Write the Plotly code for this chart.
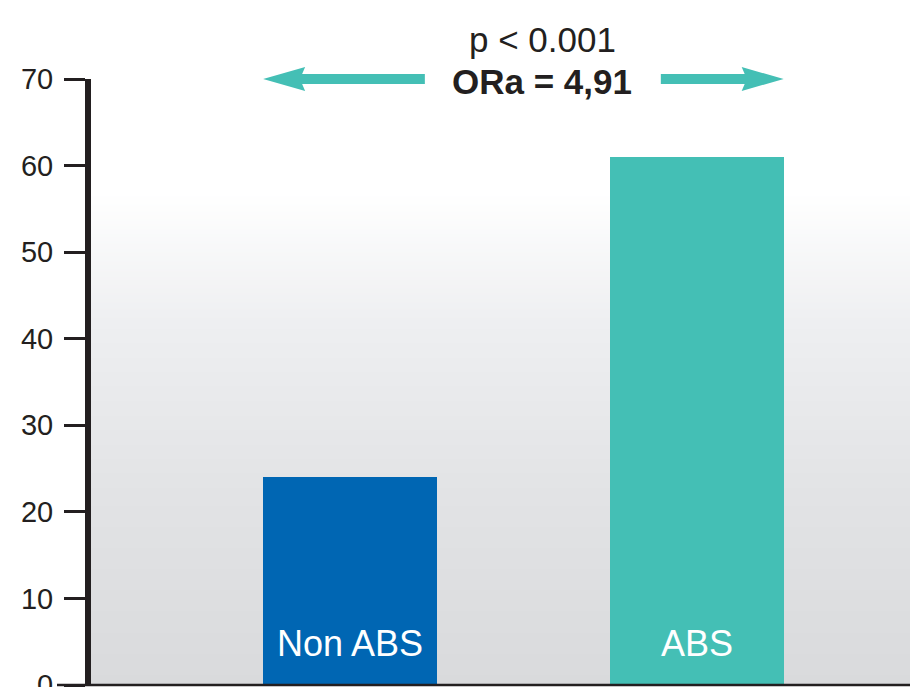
import plotly.graph_objects as go

categories = ["Non ABS", "ABS"]
values = [24, 61]
bar_colors = ["#0066b3", "#44bfb5"]
y_ticks = [0, 10, 20, 30, 40, 50, 60, 70]
p_text = "p < 0.001"
or_text = "ORa = 4,91"

W, H = 910, 687
ML, MR, MT, MB = 91, 0, 79, 2
X_RANGE = [-0.746, 1.614]
Y_RANGE = [0, 70]
BAR_W = 0.5
FONT = "Liberation Sans, Arial, sans-serif"
INK = "#231f20"
TEAL = "#44bfb5"

PW = W - ML - MR
PH = H - MT - MB
px_per_x = PW / (X_RANGE[1] - X_RANGE[0])

fig = go.Figure()

# gradient background of plot area (heatmap layer sits below bars)
grad_y = [v * 0.5 for v in range(0, 141)]
fig.add_trace(go.Heatmap(
    x=[X_RANGE[0] - 0.5, 0.5, X_RANGE[1] + 0.5],
    y=grad_y,
    z=[[v, v, v] for v in grad_y],
    zmin=0, zmax=57, zsmooth="best",
    colorscale=[[0, "#d9dadc"], [0.386, "#e2e3e5"], [0.737, "#eeeff1"], [1, "#ffffff"]],
    showscale=False, hoverinfo="skip",
))

fig.add_trace(go.Bar(
    x=[0, 1], y=values, width=BAR_W, marker=dict(color=bar_colors, line=dict(width=0)),
    showlegend=False, hoverinfo="skip",
))


def arrow_path(x_tip, x_tail, yv):
    d = 1 if x_tail > x_tip else -1
    head_len = 42 / px_per_x
    notch = 3 / px_per_x
    hh = 12 / PH
    sh = 5 / PH
    xb = x_tip + d * head_len
    xn = xb - d * notch
    pts = [(x_tip, yv), (xb, yv + hh), (xn, yv + sh), (x_tail, yv + sh),
           (x_tail, yv - sh), (xn, yv - sh), (xb, yv - hh)]
    return "M" + " L".join(f"{a:.5f},{b:.5f}" for a, b in pts) + " Z"


shapes = []
arrow_y = 1.0  # paper units, top of plot
left_tip = 0 - BAR_W / 2
right_tip = 1 + BAR_W / 2
shapes.append(dict(type="path", xref="x", yref="paper", path=arrow_path(left_tip, 0.216, arrow_y),
                   fillcolor=TEAL, line=dict(width=0)))
shapes.append(dict(type="path", xref="x", yref="paper", path=arrow_path(right_tip, 0.896, arrow_y),
                   fillcolor=TEAL, line=dict(width=0)))
# baseline extending left of the y axis
shapes.append(dict(type="line", xref="paper", yref="paper", x0=-(ML - 57) / PW, x1=1,
                   y0=0, y1=0, line=dict(color=INK, width=2.5), layer="above"))

annotations = []
for i, c in enumerate(categories):
    annotations.append(dict(x=i, y=4.8, xref="x", yref="y", text=c, showarrow=False,
                            font=dict(family=FONT, size=36, color="white"),
                            xanchor="center", yanchor="middle"))
annotations.append(dict(x=0.556, y=(H - MB - 40) / PH, xref="x", yref="paper", text=p_text,
                        showarrow=False, font=dict(family=FONT, size=35, color=INK),
                        xanchor="center", yanchor="middle"))
annotations.append(dict(x=0.553, y=(H - MB - 81) / PH, xref="x", yref="paper",
                        text=f"<b>{or_text}</b>", showarrow=False,
                        font=dict(family=FONT, size=35, color=INK), xanchor="center", yanchor="middle"))

fig.update_layout(
    width=W, height=H,
    margin=dict(l=ML, r=MR, t=MT, b=MB, autoexpand=False),
    paper_bgcolor="white", plot_bgcolor="rgba(0,0,0,0)",
    template="none",
    xaxis=dict(range=X_RANGE, showgrid=False, zeroline=False, showticklabels=False,
               ticks="", showline=False, fixedrange=True),
    yaxis=dict(range=Y_RANGE, tickvals=y_ticks, ticktext=[str(v) for v in y_ticks],
               showgrid=False, zeroline=False, showline=True, linecolor=INK, linewidth=6,
               ticks="outside", ticklen=21, tickwidth=3, tickcolor=INK,
               ticklabelstandoff=5, ticklabeloverflow="allow",
               tickfont=dict(family=FONT, size=29, color=INK), fixedrange=True),
    shapes=shapes, annotations=annotations, bargap=0,
)

fig.write_html("out.html", config={"displayModeBar": False},
               post_script="document.body.style.margin='0';document.body.style.overflow='hidden';")
